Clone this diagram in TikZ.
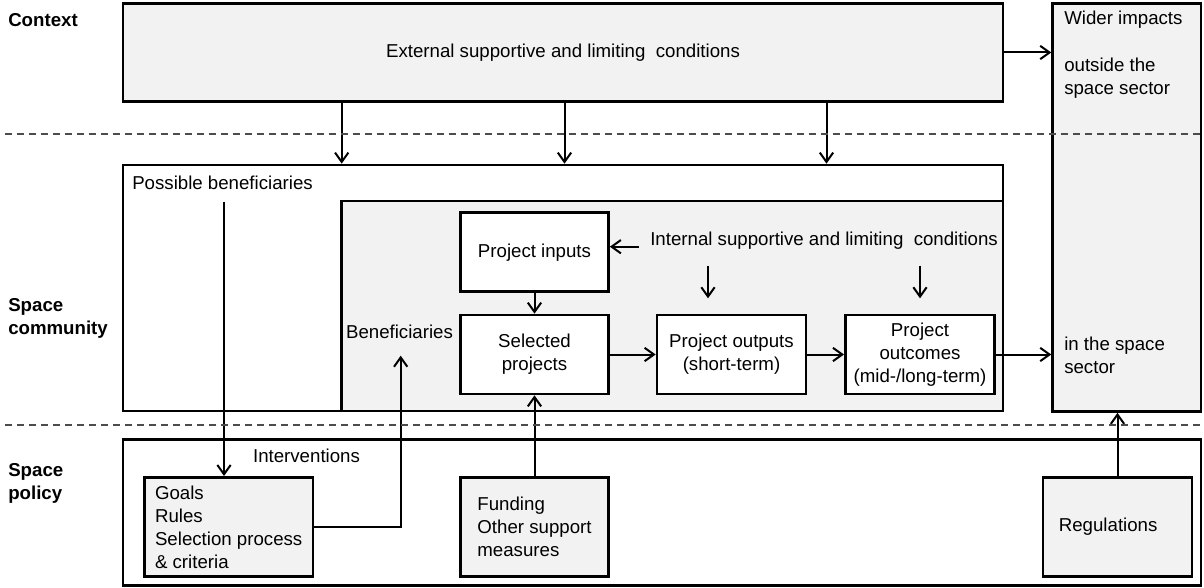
\documentclass[tikz,border=0pt]{standalone}
\usepackage{fontspec}
\setmainfont{Liberation Sans}
\usetikzlibrary{arrows.meta}
\definecolor{boxgray}{HTML}{F2F2F2}
\tikzset{
  every node/.style={font=\fontsize{14}{17.2}\selectfont},
  box/.style={draw, line width=2pt, inner sep=0pt, align=center},
  graybox/.style={box, fill=boxgray},
  whitebox/.style={box, fill=white},
  arr/.style={line width=1.5pt, -{Straight Barb[length=7pt,width=10pt,line width=1.5pt]}},
  divider/.style={line width=1.2pt, black!70, dash pattern=on 5.5pt off 3.5pt},
  head/.style={font=\fontsize{14}{17.2}\selectfont\bfseries, anchor=west, align=left, inner sep=0pt},
  txt/.style={anchor=west, align=left, inner sep=0pt},
}
\begin{document}
\begin{tikzpicture}[x=0.75pt,y=0.75pt,yscale=-1,xscale=1]
  \useasboundingbox (0,0) rectangle (1204,588);

  % Row labels
  \node[head] (lcontext) at (8,20) {Context};
  \node[head] (lcomm) at (8,318) {Space\\community};
  \node[head] (lpolicy) at (8,483) {Space\\policy};

  % Context
  \node[graybox, minimum width=660pt, minimum height=73.5pt] (ext) at (563,52.5) {External supportive and limiting\ \ conditions};
  \node[graybox, minimum width=111.3pt, minimum height=306pt] (wider) at (1126.8,207.5) {};
  \node[txt] (wtop) at (1064,20) {Wider impacts};
  \node[txt] (wout) at (1064,78) {outside the\\space sector};
  \node[txt] (win) at (1064,355) {in the space\\sector};

  % Space community
  \node[whitebox, minimum width=660pt, minimum height=184.5pt] (comm) at (563,288) {};
  \node[txt] (possben) at (132,182.7) {Possible beneficiaries};
  \node[graybox, minimum width=496.1pt, minimum height=157.5pt] (inner) at (672.25,306) {};
  \node[anchor=center, inner sep=0pt] (benef) at (399.5,332.3) {Beneficiaries};
  \node[whitebox, minimum width=111pt, minimum height=59.25pt] (inputs) at (534.5,252.2) {Project inputs};
  \node[txt] (intcond) at (650,240.7) {Internal supportive and limiting\ \ conditions};
  \node[whitebox, minimum width=111pt, minimum height=59.25pt] (selected) at (534.5,354.5) {Selected\\projects};
  \node[whitebox, minimum width=111.75pt, minimum height=59.25pt] (outputs) at (731.5,354.5) {Project outputs\\(short-term)};
  \node[whitebox, minimum width=112pt, minimum height=59.25pt] (outcomes) at (920,354.5) {Project\\outcomes\\(mid-/long-term)};

  % Space policy
  \node[whitebox, minimum width=808.5pt, minimum height=109.8pt] (policy) at (662,512.5) {};
  \node[anchor=center, inner sep=0pt] (interv) at (306.5,455.7) {Interventions};
  \node[graybox, align=left, minimum width=126.5pt, minimum height=74.5pt] (goals) at (228.7,527) {Goals\\Rules\\Selection process\\\& criteria};
  \node[graybox, align=left, minimum width=111pt, minimum height=74.5pt] (funding) at (534.5,527) {Funding\\Other support\\measures};
  \node[graybox, minimum width=111.75pt, minimum height=74.5pt] (regs) at (1117.5,527) {Regulations\hspace{14pt}};

  % Free ends
  \coordinate (c1) at (341.7,0);
  \coordinate (c2) at (564.5,0);
  \coordinate (c3) at (826.5,0);
  \coordinate (pb) at (224,201.7);
  \coordinate (ben) at (400.7,355.7);
  \coordinate (intw) at (638.5,246.7);
  \coordinate (d1s) at (708,265.7);
  \coordinate (d1e) at (708,298.3);
  \coordinate (d2s) at (920,265.7);
  \coordinate (d2e) at (920,298.3);

  % Arrows
  \draw[arr] (ext.south -| c1) -- (comm.north -| c1);
  \draw[arr] (ext.south -| c2) -- (comm.north -| c2);
  \draw[arr] (ext.south -| c3) -- (comm.north -| c3);
  \draw[arr] (ext.east) -- (ext.east -| wider.west);
  \draw[arr] (pb) -- (pb |- goals.north);
  \draw[arr] (goals.east) -| (ben);
  \draw[arr] (intw) -- (intw -| inputs.east);
  \draw[arr] (d1s) -- (d1e);
  \draw[arr] (d2s) -- (d2e);
  \draw[arr] (inputs.south) -- (selected.north);
  \draw[arr] (selected.east) -- (outputs.west);
  \draw[arr] (outputs.east) -- (outcomes.west);
  \draw[arr] (outcomes.east) -- (outcomes.east -| wider.west);
  \draw[arr] (funding.north) -- (selected.south);
  \draw[arr] (regs.north) -- (regs.north |- wider.south);

  % Dividers
  \draw[divider] (5,134) -- (1204,134);
  \draw[divider] (5,425) -- (1204,425);
\end{tikzpicture}
\end{document}
